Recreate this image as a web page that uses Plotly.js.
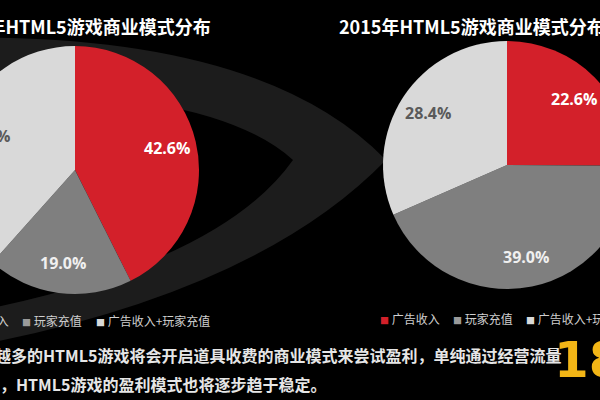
<!DOCTYPE html>
<html>
<head>
<meta charset="utf-8">
<script src="https://cdn.plot.ly/plotly-3.0.1.min.js"></script>
<style>
  html, body { margin: 0; padding: 0; background: #000; overflow: hidden; width: 600px; height: 400px; }
  #chart { position: absolute; left: -60px; top: 0; width: 720px; height: 400px; }
</style>
</head>
<body>
<div id="chart"></div>
<script>
// ---- data ----
const categories = ['广告收入', '玩家充值', '广告收入+玩家充值'];
const values2014 = [42.6, 19.0, 38.4];
const values2015 = [22.6, 39.0, 28.4];
const chartTitles = ['2014年HTML5游戏商业模式分布', '2015年HTML5游戏商业模式分布'];
const footnoteLines = [
  '越多的HTML5游戏将会开启道具收费的商业模式来尝试盈利，单纯通过经营流量',
  '，HTML5游戏的盈利模式也将逐步趋于稳定。'
];
const watermarkText = '18';

// ---- styling ----
const sliceColors = ['#d3202a', '#7f7f7f', '#d9d9d9'];
const labelColors = ['#ffffff', '#f0f0f0', '#5a5a5a'];
const legendSquareColors = ['#d3202a', '#9a9a9a', '#d9d9d9'];
const W = 720, H = 400, SHIFT = 60;
const px = x => (x + SHIFT) / W;      // page x -> paper x
const py = y => 1 - y / H;            // page y -> paper y
const R = 124;
const pies = [
  { values: values2014, cx: 75, cy: 170 },
  { values: values2015, cx: 507, cy: 165 }
];

function pieDomain(cx, cy, r) {
  return { x: [px(cx - r), px(cx + r)], y: [py(cy + r), py(cy - r)] };
}

const data = pies.map(p => ({
  type: 'pie',
  labels: categories,
  values: p.values,
  textinfo: 'none',
  sort: false,
  direction: 'clockwise',
  rotation: 0,
  domain: pieDomain(p.cx, p.cy, R),
  marker: { colors: sliceColors, line: { width: 0 } },
  hoverinfo: 'skip',
  showlegend: false
}));

const annotations = [];

// slice value labels, placed along each slice's bisector
const labelFont = { family: 'Open Sans, Noto Sans, sans-serif', size: 16, weight: 'bold' };
pies.forEach(p => {
  const total = p.values.reduce((a, b) => a + b, 0);
  let cum = 0;
  p.values.forEach((v, i) => {
    const mid = (cum + v / 2) / total * 2 * Math.PI;
    cum += v;
    const x = p.cx + 0.76 * R * Math.sin(mid);
    const y = p.cy - 0.76 * R * Math.cos(mid);
    annotations.push({ text: v.toFixed(1) + '%', x: px(x), y: py(y), xanchor: 'center', yanchor: 'middle',
      xref: 'paper', yref: 'paper', showarrow: false,
      font: Object.assign({}, labelFont, { color: labelColors[i] }) });
  });
});

// background swoosh (decorative band)
function P(x, y) { return px(x) + ',' + py(y); }
const swoosh = 'M ' + P(-60, 38) + ' Q ' + P(260, 30) + ' ' + P(386, 160) +
  ' Q ' + P(250, 300) + ' ' + P(-60, 352) +
  ' L ' + P(-60, 318) + ' Q ' + P(215, 270) + ' ' + P(293, 160) +
  ' Q ' + P(210, 85) + ' ' + P(-60, 92) + ' Z';

const titleFont = { family: 'Noto Sans CJK SC, sans-serif', size: 18, color: '#ffffff', weight: 'bold' };
annotations.push({ text: chartTitles[0], x: px(213), xanchor: 'right', y: py(26), yanchor: 'middle',
  xref: 'paper', yref: 'paper', showarrow: false, font: titleFont });
annotations.push({ text: chartTitles[1], x: px(337), xanchor: 'left', y: py(26), yanchor: 'middle',
  xref: 'paper', yref: 'paper', showarrow: false, font: titleFont });

// legends
const legendFont = { family: 'Noto Sans CJK SC, sans-serif', size: 12, color: '#cfcfcf' };
function addLegend(xs, y) {
  categories.forEach((c, i) => {
    annotations.push({
      text: '<span style="color:' + legendSquareColors[i] + ';font-size:9px">■</span> ' + c,
      x: px(xs[i]), xanchor: 'left', y: py(y), yanchor: 'middle',
      xref: 'paper', yref: 'paper', showarrow: false, font: legendFont
    });
  });
}
addLegend([-53, 20, 94], 320);
addLegend([378, 451, 524], 318);

// footnote
const noteFont = { family: 'Noto Sans CJK SC, sans-serif', size: 16, color: '#e6e6e6', weight: 'bold' };
annotations.push({ text: footnoteLines[0], x: px(-7), xanchor: 'left', y: py(355), yanchor: 'middle',
  xref: 'paper', yref: 'paper', showarrow: false, font: noteFont });
annotations.push({ text: footnoteLines[1], x: px(-2), xanchor: 'left', y: py(384), yanchor: 'middle',
  xref: 'paper', yref: 'paper', showarrow: false, font: noteFont });

// watermark
annotations.push({ text: watermarkText, x: px(552), xanchor: 'left', y: py(360), yanchor: 'middle',
  xref: 'paper', yref: 'paper', showarrow: false,
  font: { family: 'DejaVu Sans, sans-serif', size: 50, color: '#f2b516', weight: 'bold' } });

const layout = {
  width: W, height: H,
  margin: { l: 0, r: 0, t: 0, b: 0 },
  paper_bgcolor: '#000000',
  plot_bgcolor: '#000000',
  showlegend: false,
  shapes: [{ type: 'path', path: swoosh, xref: 'paper', yref: 'paper', layer: 'below',
    fillcolor: '#1c1c1c', line: { width: 0 } }],
  annotations: annotations
};

Plotly.newPlot('chart', data, layout, { staticPlot: true, displayModeBar: false });
</script>
</body>
</html>
